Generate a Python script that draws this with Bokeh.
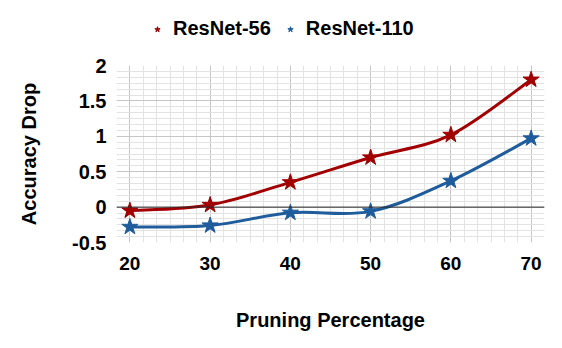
from bokeh.plotting import figure
from bokeh.layouts import column
from bokeh.models import (Range1d, SingleIntervalTicker, Span, Legend, LegendItem,
                          ColumnDataSource)
from bokeh.embed import file_html
from bokeh.resources import INLINE

# ---- data ----
pruning = [20, 30, 40, 50, 60, 70]
resnet56 = [-0.05, 0.03, 0.35, 0.70, 1.02, 1.80]
resnet110 = [-0.28, -0.26, -0.08, -0.06, 0.37, 0.97]
series_names = ["ResNet-56", "ResNet-110"]
y_ticks = [-0.5, 0, 0.5, 1, 1.5, 2]

RED = "#A20000"
BLUE = "#1F5C9C"
FONT = "Liberation Sans"
W = 554
TOP_H = 50


def smooth_segments(xs, ys):
    """Cubic Bezier control points (Catmull-Rom style, like a smoothed spreadsheet line)."""
    n = len(xs)
    d = dict(x0=[], y0=[], x1=[], y1=[], cx0=[], cy0=[], cx1=[], cy1=[])
    for i in range(n - 1):
        im1 = max(i - 1, 0)
        ip2 = min(i + 2, n - 1)
        d["x0"].append(xs[i]); d["y0"].append(ys[i])
        d["x1"].append(xs[i + 1]); d["y1"].append(ys[i + 1])
        d["cx0"].append(xs[i] + (xs[i + 1] - xs[im1]) / 6)
        d["cy0"].append(ys[i] + (ys[i + 1] - ys[im1]) / 6)
        d["cx1"].append(xs[i + 1] - (xs[ip2] - xs[i]) / 6)
        d["cy1"].append(ys[i + 1] - (ys[ip2] - ys[i]) / 6)
    return ColumnDataSource(d)


# ---- main chart ----
p = figure(width=W, height=340 - TOP_H, output_backend="svg", toolbar_location=None,
           x_range=Range1d(20 - 10 / 6, 70 + 10 / 6), y_range=Range1d(-0.5, 2),
           min_border_left=116, min_border_right=10, min_border_top=65 - TOP_H,
           min_border_bottom=98)
p.outline_line_color = None
p.background_fill_color = "white"
p.border_fill_color = "white"

p.xaxis.ticker = SingleIntervalTicker(interval=10, num_minor_ticks=6)
p.yaxis.ticker = SingleIntervalTicker(interval=0.5, num_minor_ticks=6)
p.xgrid.ticker = p.xaxis[0].ticker
p.ygrid.ticker = p.yaxis[0].ticker
for g in (p.xgrid[0], p.ygrid[0]):
    g.grid_line_color = "#C6C6C6"
    g.grid_line_width = 1
    g.minor_grid_line_color = "#E3E3E3"
    g.minor_grid_line_width = 1

p.add_layout(Span(location=0, dimension="width", line_color="#2A2A2A", line_width=1))

for ax in (p.xaxis[0], p.yaxis[0]):
    ax.axis_line_color = None
    ax.major_tick_line_color = None
    ax.minor_tick_line_color = None
    ax.major_tick_out = 0
    ax.minor_tick_out = 0
    ax.major_label_text_font = FONT
    ax.major_label_text_font_style = "bold"
    ax.major_label_text_color = "black"
    ax.axis_label_text_font = FONT
    ax.axis_label_text_font_style = "bold"
    ax.axis_label_text_font_size = "20px"
    ax.axis_label_text_color = "black"

p.xaxis.major_label_text_font_size = "19px"
p.yaxis.major_label_text_font_size = "20px"
p.xaxis.major_label_standoff = 14
p.yaxis.major_label_standoff = 10
p.yaxis.major_label_overrides = {t: ("%g" % t) for t in y_ticks}
p.xaxis.axis_label = "Pruning Percentage"
p.yaxis.axis_label = "Accuracy Drop"
p.xaxis.axis_label_standoff = 36
p.yaxis.axis_label_standoff = 29

for vals, col in zip([resnet56, resnet110], [RED, BLUE]):
    src = smooth_segments(pruning, vals)
    p.bezier(x0="x0", y0="y0", x1="x1", y1="y1", cx0="cx0", cy0="cy0", cx1="cx1", cy1="cy1",
             source=src, line_color=col, line_width=3, line_cap="round")
    p.scatter(pruning, vals, marker="star", size=17, fill_color=col, line_color=col)

# ---- legend strip (same series, outside its visible ranges; only the key shows) ----
top = figure(width=W, height=TOP_H, output_backend="svg", toolbar_location=None,
             x_range=Range1d(0, 1), y_range=Range1d(0, 1),
             min_border=0, x_axis_location=None, y_axis_location=None)
top.outline_line_color = None
top.xgrid.visible = False
top.ygrid.visible = False
items = []
for name, vals, col in zip(series_names, [resnet56, resnet110], [RED, BLUE]):
    r = top.scatter(pruning, vals, marker="star", size=17, fill_color=col, line_color=col)
    items.append(LegendItem(label=name, renderers=[r]))

legend = Legend(items=items, orientation="horizontal", location=(34, 10),
                label_text_font=FONT, label_text_font_style="bold", label_text_font_size="20px",
                label_text_color="black", glyph_width=14, glyph_height=14, label_standoff=9,
                spacing=12, padding=0, margin=0, border_line_color=None,
                background_fill_alpha=0)
top.add_layout(legend, "center")

layout = column(top, p, spacing=0)
open("out.html", "w").write(file_html(layout, INLINE))
